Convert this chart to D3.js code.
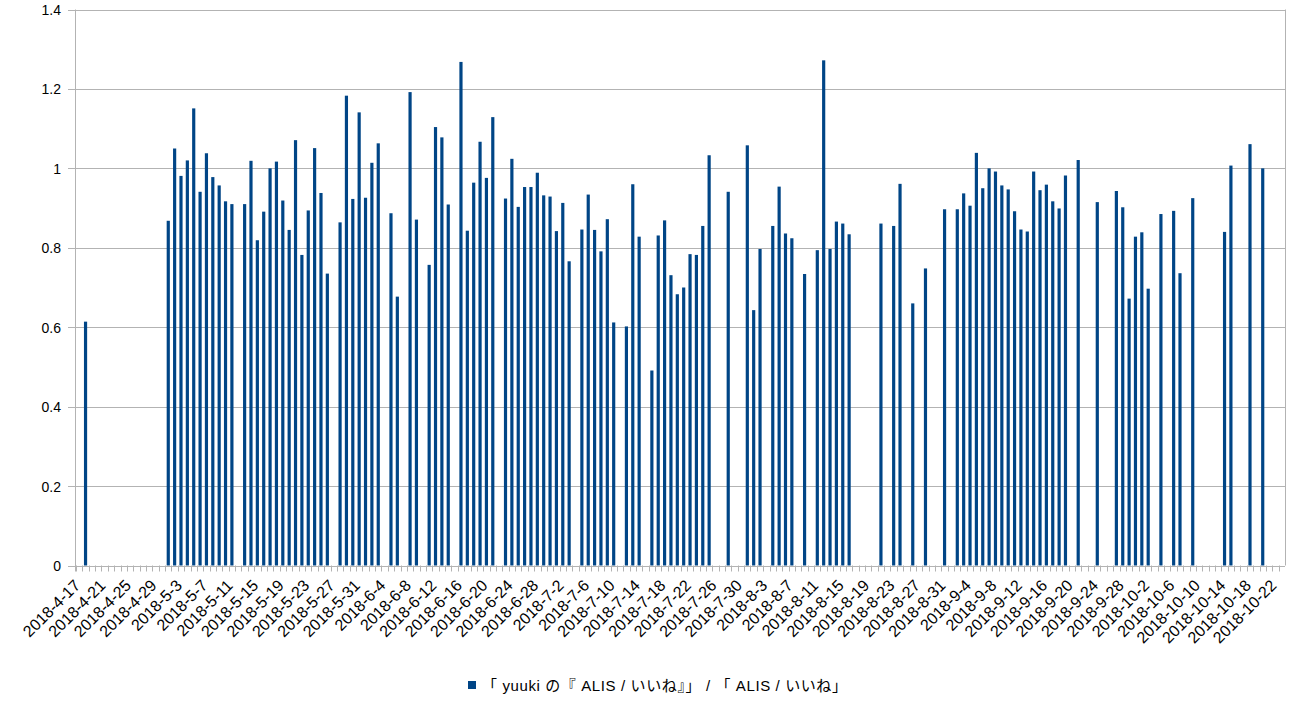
<!DOCTYPE html>
<html><head><meta charset="utf-8">
<script src="https://cdn.jsdelivr.net/npm/d3@7/dist/d3.min.js"></script>
<style>
body{margin:0;background:#fff}
text{font-family:"Liberation Sans","Noto Sans CJK JP",sans-serif;fill:#000}
</style>
</head><body>
<svg id="chart" width="1316" height="706"></svg>
<script>
// ---- data ----
const startDate = "2018-04-17";
const dayCount = 190; // 2018-4-17 .. 2018-10-23
const seriesName = "「 yuuki の『 ALIS / いいね』」 / 「 ALIS / いいね」";
const seriesColor = "#004586";
const values = [
  null, 0.614, null, null, null, null, null, null, null, null,          // 0-9
  null, null, null, null, 0.868, 1.050, 0.981, 1.020, 1.151, 0.941,     // 10-19
  1.038, 0.978, 0.957, 0.917, 0.910, null, 0.910, 1.019, 0.819, 0.891,  // 20-29
  1.000, 1.017, 0.919, 0.845, 1.071, 0.782, 0.894, 1.051, 0.938, 0.735, // 30-39
  null, 0.864, 1.183, 0.923, 1.141, 0.926, 1.014, 1.063, null, 0.887,   // 40-49
  0.677, null, 1.192, 0.871, null, 0.757, 1.104, 1.078, 0.909, null,    // 50-59
  1.268, 0.843, 0.964, 1.067, 0.976, 1.129, null, 0.924, 1.024, 0.903,  // 60-69
  0.953, 0.953, 0.989, 0.932, 0.929, 0.842, 0.913, 0.766, null, 0.846,  // 70-79
  0.934, 0.845, 0.791, 0.872, 0.612, null, 0.602, 0.960, 0.828, null,   // 80-89
  0.491, 0.831, 0.869, 0.731, 0.683, 0.700, 0.784, 0.782, 0.855, 1.033, // 90-99
  null, null, 0.941, null, null, 1.058, 0.643, 0.797, null, 0.855,      // 100-109
  0.954, 0.836, 0.824, null, 0.734, null, 0.794, 1.272, 0.797, 0.866,   // 110-119
  0.861, 0.834, null, null, null, null, 0.861, null, 0.855, 0.961,      // 120-129
  null, 0.660, null, 0.748, null, null, 0.897, null, 0.897, 0.937,      // 130-139
  0.906, 1.039, 0.950, 1.000, 0.992, 0.957, 0.947, 0.892, 0.846, 0.841, // 140-149
  0.992, 0.945, 0.959, 0.917, 0.899, 0.982, null, 1.021, null, null,    // 150-159
  0.915, null, null, 0.943, 0.902, 0.672, 0.828, 0.839, 0.697, null,    // 160-169
  0.885, null, 0.893, 0.736, null, 0.925, null, null, null, null,       // 170-179
  0.840, 1.007, null, null, 1.061, null, 1.000, null, null, null        // 180-189
];
const yTicks = [0, 0.2, 0.4, 0.6, 0.8, 1.0, 1.2, 1.4];
const yTickLabels = ["0", "0.2", "0.4", "0.6", "0.8", "1", "1.2", "1.4"];
const labelEvery = 4;

// categories (dates) from start date
const parse = d3.utcParse("%Y-%m-%d");
const d0 = parse(startDate);
const categories = d3.utcDay.range(d0, d3.utcDay.offset(d0, dayCount))
  .map(d => `${d.getUTCFullYear()}-${d.getUTCMonth() + 1}-${d.getUTCDate()}`);
const xTickLabels = categories.filter((c, i) => i % labelEvery === 0);
const data = categories.map((c, i) => ({cat: c, v: values[i]}));

// ---- layout ----
const svg = d3.select("#chart");
const L = 76, R = 1285, T = 9.5, B = 565.5;
const gridColor = "#b3b3b3";

const x = d3.scaleBand().domain(categories).range([L, R]).paddingInner(0.5).paddingOuter(0.25);
const y = d3.scaleLinear().domain([0, 1.4]).range([B, T]);
const step = x.step();

svg.append("rect").attr("width", 1316).attr("height", 706).attr("fill", "#fff");

// gridlines
svg.append("g").selectAll("line").data(yTicks).join("line")
  .attr("x1", L - 8).attr("x2", R)
  .attr("y1", d => Math.round(y(d)) + 0.5).attr("y2", d => Math.round(y(d)) + 0.5)
  .attr("stroke", gridColor).attr("stroke-width", 1);

// frame sides
svg.append("line").attr("x1", L - 0.5).attr("x2", L - 0.5).attr("y1", T).attr("y2", B + 6)
  .attr("stroke", gridColor);
svg.append("line").attr("x1", R + 0.5).attr("x2", R + 0.5).attr("y1", T).attr("y2", B)
  .attr("stroke", gridColor);

// y axis labels
const yAxis = d3.axisLeft(y).tickValues(yTicks).tickFormat((d, i) => yTickLabels[i]).tickSize(0).tickPadding(0);
const gy = svg.append("g").attr("transform", `translate(${L - 15},0)`).call(yAxis);
gy.select(".domain").remove();
gy.selectAll("text").attr("font-size", 14).attr("font-family", "Liberation Sans, sans-serif").attr("fill", "#000").attr("dy", "0.36em");

// x tick marks at category boundaries
svg.append("g").selectAll("line").data(categories).join("line")
  .attr("x1", d => Math.round(x(d) - step * 0.25) + 0.5)
  .attr("x2", d => Math.round(x(d) - step * 0.25) + 0.5)
  .attr("y1", B).attr("y2", B + 6)
  .attr("stroke", gridColor);

// x labels
const xAxis = d3.axisBottom(x).tickValues(xTickLabels).tickSize(0).tickPadding(0);
const gx = svg.append("g").attr("transform", `translate(0,${B})`).call(xAxis);
gx.select(".domain").remove();
gx.selectAll(".tick text")
  .attr("font-size", 16).attr("font-family", "Liberation Sans, sans-serif").attr("fill", "#000")
  .attr("text-anchor", "end")
  .attr("transform", "translate(2,21) rotate(-45)")
  .attr("x", 0).attr("y", 0).attr("dy", 0);

// bars
svg.append("g").selectAll("rect").data(data.filter(d => d.v != null)).join("rect")
  .attr("x", d => x(d.cat))
  .attr("width", x.bandwidth())
  .attr("y", d => y(d.v))
  .attr("height", d => y(0) - y(d.v))
  .attr("fill", seriesColor);

// legend
const lg = svg.append("g").attr("transform", "translate(468,681)");
lg.append("rect").attr("width", 8).attr("height", 8).attr("fill", seriesColor);
lg.append("text").attr("x", 14).attr("y", 9.5).attr("font-size", 15)
  .attr("textLength", 365).attr("lengthAdjust", "spacing").text(seriesName);
</script>
</body></html>
